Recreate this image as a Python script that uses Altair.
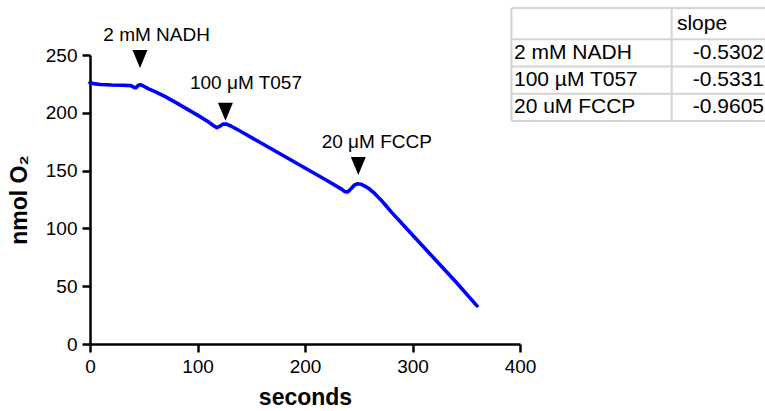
import altair as alt
import pandas as pd

# ---- trace data ----
time_s = [0, 5, 10, 20, 30, 38, 41, 43, 45, 47, 50, 55, 60, 70, 80, 90, 100, 110,
          115, 118, 121, 124, 127, 131, 140, 160, 180, 200, 220, 234, 237, 240,
          243, 246, 249, 252, 256, 260, 265, 270, 275, 280, 300, 320, 340, 360]
o2_nmol = [226, 225, 224.5, 224, 223.8, 223.5, 222, 221.8, 223.8, 224.3, 223, 220.5,
           218.5, 214, 208.8, 203.4, 198, 192.2, 188.8, 187.2, 188.5, 190.3, 190.2,
           188.6, 184, 173.4, 162.8, 152.2, 141.6, 134, 131.8, 131.6, 134.5, 137.6,
           138.6, 138.2, 136.4, 134, 130, 125.3, 120, 114.5, 94.3, 74.2, 54, 33]

# ---- additions (arrows + labels) ----
event_names = ["2 mM NADH", "100 \u03bcM T057", "20 \u03bcM FCCP"]
event_time = [46.5, 126, 249.6]
arrow_o2 = [246.5, 201, 154]
label_time = [12.4, 93, 215.5]
label_o2 = [262, 220.3, 169.8]

# ---- slope table ----
table_header = "slope"
table_labels = ["2 mM NADH", "100 \u00b5M T057", "20 uM FCCP"]
table_slopes = ["-0.5302", "-0.5331", "-0.9605"]
# table frame in data units (seconds, nmol O2)
table_col_edges = [392.1, 541.1, 640]
table_row_edges = [290.7, 263.6, 240.1, 216.4, 192.9]

FONT = "Liberation Sans"

trace = pd.DataFrame({"t": time_s, "o2": o2_nmol})
events = pd.DataFrame({"name": event_names, "t": event_time, "ya": arrow_o2,
                       "lt": label_time, "ly": label_o2})

x_scale = alt.Scale(domain=[0, 400], nice=False, zero=False)
y_scale = alt.Scale(domain=[0, 250], nice=False, zero=False)

line = alt.Chart(trace).mark_line(color="#0000ff", strokeWidth=3.6, strokeCap="round",
                                  strokeJoin="round").encode(
    x=alt.X("t:Q", scale=x_scale,
            axis=alt.Axis(values=[0, 100, 200, 300, 400], title="seconds",
                          labelFlush=False)),
    y=alt.Y("o2:Q", scale=y_scale,
            axis=alt.Axis(values=[0, 50, 100, 150, 200, 250], title="nmol O\u2082",
                          labelFlush=False)),
)

arrows = alt.Chart(events).mark_point(
    shape="M-0.83,-1L0,1L0.83,-1Z", filled=True, color="black", size=324,
    opacity=1, strokeWidth=0
).encode(x="t:Q", y="ya:Q")

labels = alt.Chart(events).mark_text(
    align="left", baseline="alphabetic", font=FONT, fontSize=19, color="black"
).encode(x="lt:Q", y="ly:Q", text="name:N")

# table grid
hlines = pd.DataFrame({"y": table_row_edges,
                       "x1": [table_col_edges[0]] * len(table_row_edges),
                       "x2": [table_col_edges[-1]] * len(table_row_edges)})
vlines = pd.DataFrame({"x": table_col_edges[:2],
                       "y1": [table_row_edges[0]] * 2,
                       "y2": [table_row_edges[-1]] * 2})
grid_color = "#d3d3d3"
h_rules = alt.Chart(hlines).mark_rule(color=grid_color, strokeWidth=2).encode(
    x="x1:Q", x2="x2:Q", y="y:Q")
v_rules = alt.Chart(vlines).mark_rule(color=grid_color, strokeWidth=2).encode(
    x="x:Q", y="y1:Q", y2="y2:Q")

row_mid = [(a + b) / 2 for a, b in zip(table_row_edges[:-1], table_row_edges[1:])]
cells_left = pd.DataFrame({"txt": [""] + table_labels, "y": row_mid,
                           "x": [table_col_edges[0] + 2.3] * 4})
header_df = pd.DataFrame({"txt": [table_header], "y": [row_mid[0]],
                          "x": [table_col_edges[1] + 4.9]})
values_df = pd.DataFrame({"txt": table_slopes, "y": row_mid[1:],
                          "x": [627] * 3})

t_left = alt.Chart(cells_left).mark_text(align="left", baseline="middle", font=FONT,
                                         fontSize=21, color="black").encode(
    x="x:Q", y="y:Q", text="txt:N")
t_head = alt.Chart(header_df).mark_text(align="left", baseline="middle", font=FONT,
                                        fontSize=21, color="black").encode(
    x="x:Q", y="y:Q", text="txt:N")
t_vals = alt.Chart(values_df).mark_text(align="right", baseline="middle", font=FONT,
                                        fontSize=21, color="black").encode(
    x="x:Q", y="y:Q", text="txt:N")

chart = alt.layer(line, arrows, labels, h_rules, v_rules, t_left, t_head, t_vals).properties(
    width=430, height=289,
    autosize=alt.AutoSizeParams(type="none"),
    padding={"left": 90, "top": 55, "right": 245, "bottom": 67},
).configure_view(stroke=None).configure_axis(
    grid=False, domainColor="black", domainWidth=2.5, tickColor="black",
    tickWidth=2.5, tickSize=8, labelFont=FONT, labelFontSize=19, labelColor="black",
    labelPadding=5, titleFont=FONT, titleFontSize=23, titleFontWeight="bold",
    titleColor="black"
).configure_axisX(titlePadding=10).configure_axisY(titlePadding=14)

chart.save("out.html", embed_options={"renderer": "svg", "actions": False})
